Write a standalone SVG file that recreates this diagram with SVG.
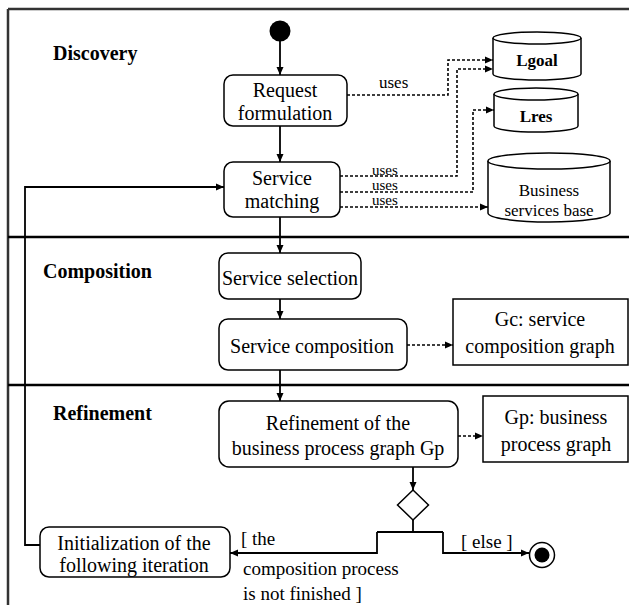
<svg xmlns="http://www.w3.org/2000/svg" width="629" height="605" viewBox="0 0 629 605">
<defs>
<marker id="arr" viewBox="0 0 8 8" refX="8" refY="4" markerWidth="8" markerHeight="8" markerUnits="userSpaceOnUse" orient="auto">
<path d="M0,0.5 L8,4 L0,7.5 Z" fill="#000"/>
</marker>
<style>
text{font-family:'Liberation Serif','Tinos','DejaVu Serif','Noto Serif',serif;fill:#000}
.t{font-size:20px;text-anchor:middle}
.tl{font-size:19px}
.h{font-size:20px;font-weight:bold}
.s{font-size:17px;text-anchor:middle}
.u{font-size:17px}
.u2{font-size:15px}
.box{fill:#fff;stroke:#000;stroke-width:1.5}
.ln{fill:none;stroke:#000;stroke-width:1.8}
.dl{fill:none;stroke:#000;stroke-width:1.6;stroke-dasharray:3,2}
.sep{stroke:#000;stroke-width:2.5}
</style>
</defs>
<rect width="629" height="605" fill="#fff"/>
<g id="frame">
<line x1="8" y1="9" x2="629" y2="9" stroke="#333" stroke-width="2.5"/>
<line x1="8" y1="9" x2="8" y2="605" stroke="#333" stroke-width="2.5"/>
<line class="sep" x1="8" y1="237" x2="629" y2="237"/>
<line class="sep" x1="8" y1="385" x2="629" y2="385"/>
</g>
<g id="lanes">
<text class="h" x="53" y="60">Discovery</text>
<text class="h" x="43" y="278">Composition</text>
<text class="h" x="53" y="420">Refinement</text>
</g>
<g id="connectors">
<line class="ln" x1="280" y1="40" x2="280" y2="75" marker-end="url(#arr)"/>
<line class="ln" x1="280" y1="126" x2="280" y2="162" marker-end="url(#arr)"/>
<line class="ln" x1="280" y1="217" x2="280" y2="253" marker-end="url(#arr)"/>
<line class="ln" x1="280" y1="299" x2="280" y2="319" marker-end="url(#arr)"/>
<line class="ln" x1="280" y1="370" x2="280" y2="401" marker-end="url(#arr)"/>
<line class="ln" x1="413" y1="467" x2="413" y2="490" marker-end="url(#arr)"/>
<polyline class="ln" points="413,520 413,532"/>
<polyline class="ln" points="377,532 443,532"/>
<polyline class="ln" points="377,532 377,553 230,553" marker-end="url(#arr)"/>
<polyline class="ln" points="443,532 443,553 529,553" marker-end="url(#arr)"/>
<polyline class="ln" points="40,545 25,545 25,187 224,187" marker-end="url(#arr)"/>
<polyline class="dl" points="347,95 448,95 448,60 493,60" marker-end="url(#arr)"/>
<polyline class="dl" points="340,176 457,176 457,69 493,69" marker-end="url(#arr)"/>
<polyline class="dl" points="340,192 473,192 473,110 494,110" marker-end="url(#arr)"/>
<polyline class="dl" points="340,207 488,207" marker-end="url(#arr)"/>
<line class="dl" x1="407" y1="345" x2="453" y2="345" marker-end="url(#arr)"/>
<line class="dl" x1="458" y1="436" x2="483" y2="436" marker-end="url(#arr)"/>
<text class="u" x="379" y="88">uses</text>
<text class="u2" x="372" y="175">uses</text>
<text class="u2" x="372" y="190">uses</text>
<text class="u2" x="372" y="205">uses</text>
<text class="tl" x="241" y="545">[ the</text>
<text class="tl" x="243" y="575">composition process</text>
<text class="tl" x="243" y="600">is not finished ]</text>
<text class="tl" x="461" y="548">[ else ]</text>
</g>
<g id="start">
<circle cx="280" cy="31" r="10.5" fill="#000"/>
</g>
<g id="request">
<rect class="box" x="224" y="75" width="123" height="51" rx="9"/>
<text class="t" x="285" y="97">Request</text>
<text class="t" x="285" y="120">formulation</text>
</g>
<g id="matching">
<rect class="box" x="224" y="162" width="116" height="55" rx="9"/>
<text class="t" x="282" y="185">Service</text>
<text class="t" x="282" y="208">matching</text>
</g>
<g id="lgoal">
<path class="box" d="M493,38 L493,74 A44,6 0 0 0 581,74 L581,38"/>
<ellipse class="box" cx="537" cy="38" rx="44" ry="6"/>
<text class="s" x="537" y="66" font-weight="bold">Lgoal</text>
</g>
<g id="lres">
<path class="box" d="M494,94 L494,126 A42,6 0 0 0 578,126 L578,94"/>
<ellipse class="box" cx="536" cy="94" rx="42" ry="6"/>
<text class="s" x="536" y="122" font-weight="bold">Lres</text>
</g>
<g id="business">
<path class="box" d="M488,161 L488,213 A61,9 0 0 0 610,213 L610,161"/>
<ellipse class="box" cx="549" cy="161" rx="61" ry="8"/>
<text class="s" x="549" y="196" font-size="16">Business</text>
<text class="s" x="549" y="216" font-size="16">services base</text>
</g>
<g id="selection">
<rect class="box" x="219" y="253" width="142" height="46" rx="9"/>
<text class="t" x="290" y="285">Service selection</text>
</g>
<g id="composition">
<rect class="box" x="219" y="319" width="188" height="51" rx="9"/>
<text class="t" x="312" y="353">Service composition</text>
</g>
<g id="gc">
<rect class="box" x="453" y="299" width="175" height="66"/>
<text class="t" x="540" y="326">Gc: service</text>
<text class="t" x="540" y="353">composition graph</text>
</g>
<g id="refinement">
<rect class="box" x="219" y="401" width="239" height="66" rx="10"/>
<text class="t" x="338" y="430">Refinement of the</text>
<text class="t" x="338" y="455">business process graph Gp</text>
</g>
<g id="gp">
<rect class="box" x="483" y="396" width="145" height="66"/>
<text class="t" x="556" y="424">Gp: business</text>
<text class="t" x="556" y="451">process graph</text>
</g>
<g id="decision">
<polygon class="box" points="413,490 428.5,505 413,520 397.5,505"/>
</g>
<g id="init">
<rect class="box" x="40" y="527" width="190" height="50" rx="9"/>
<text class="t" x="134" y="550">Initialization of the</text>
<text class="t" x="134" y="572">following iteration</text>
</g>
<g id="end">
<circle cx="542" cy="555" r="12.5" fill="#fff" stroke="#000" stroke-width="1.5"/>
<circle cx="542" cy="555" r="7.5" fill="#000"/>
</g>
</svg>
